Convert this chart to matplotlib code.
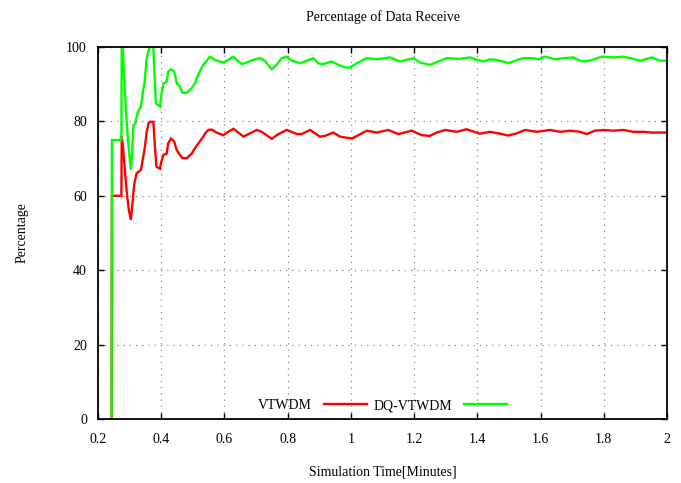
import matplotlib
matplotlib.use("Agg")
import matplotlib.pyplot as plt
from matplotlib.ticker import FuncFormatter

title = "Percentage of Data Receive"
xlabel = "Simulation Time[Minutes]"
ylabel = "Percentage"
labels = ["VTWDM", "DQ-VTWDM"]
xticks = [0.2, 0.4, 0.6, 0.8, 1.0, 1.2, 1.4, 1.6, 1.8, 2.0]
yticks = [0, 20, 40, 60, 80, 100]

vtwdm_t = [0.243, 0.244, 0.274, 0.275, 0.278, 0.285, 0.292, 0.298, 0.304, 0.308, 0.312,
           0.315, 0.322, 0.336, 0.342, 0.347, 0.351, 0.354, 0.360, 0.365, 0.375, 0.378,
           0.380, 0.385, 0.396, 0.400, 0.407, 0.417, 0.422, 0.431, 0.441, 0.449, 0.459,
           0.467, 0.481, 0.496, 0.507, 0.515, 0.522, 0.533, 0.541, 0.549, 0.560, 0.575,
           0.596, 0.612, 0.628, 0.644, 0.660, 0.681, 0.702, 0.718, 0.733, 0.750, 0.765,
           0.776, 0.797, 0.829, 0.844, 0.871, 0.902, 0.918, 0.944, 0.966, 0.987, 1.003,
           1.024, 1.050, 1.082, 1.118, 1.150, 1.192, 1.224, 1.250, 1.271, 1.298, 1.335,
           1.366, 1.408, 1.440, 1.466, 1.498, 1.525, 1.551, 1.588, 1.630, 1.662, 1.693,
           1.725, 1.746, 1.772, 1.799, 1.830, 1.862, 1.894, 1.925, 1.952, 1.988, 2.000]
vtwdm_v = [0, 60, 60, 76, 74, 67, 60, 56, 53.5, 57, 61,
           63.3, 66, 67, 70, 72.3, 75, 77.2, 79.5, 79.9, 79.9, 76,
           73.2, 67.8, 67.3, 69, 71, 71.3, 74.1, 75.4, 74.6, 72.3, 71,
           70.1, 70.1, 71.3, 72.8, 73.8, 74.6, 75.9, 77, 77.7, 77.8, 77.0,
           76.3, 77.2, 78.0, 77.0, 75.9, 76.8, 77.7, 77.2, 76.3, 75.3, 76.3,
           76.8, 77.7, 76.6, 76.6, 77.7, 75.9, 76.1, 77.0, 75.9, 75.6, 75.4,
           76.3, 77.5, 77.0, 77.7, 76.6, 77.5, 76.3, 76.1, 77.0, 77.7, 77.2,
           77.9, 76.7, 77.2, 76.8, 76.2, 76.8, 77.7, 77.2, 77.7, 77.2, 77.5,
           77.2, 76.6, 77.5, 77.7, 77.5, 77.7, 77.2, 77.2, 77.0, 77.0, 77.0]

dq_t = [0.243, 0.244, 0.274, 0.275, 0.278, 0.285, 0.292, 0.298, 0.304, 0.308, 0.312,
        0.318, 0.326, 0.336, 0.342, 0.347, 0.351, 0.354, 0.360, 0.365, 0.375, 0.378,
        0.380, 0.383, 0.396, 0.400, 0.407, 0.417, 0.422, 0.431, 0.441, 0.445, 0.449,
        0.459, 0.467, 0.481, 0.488, 0.496, 0.507, 0.512, 0.517, 0.525, 0.533, 0.544,
        0.554, 0.562, 0.570, 0.586, 0.596, 0.604, 0.612, 0.620, 0.628, 0.639, 0.647,
        0.655, 0.666, 0.676, 0.686, 0.697, 0.713, 0.728, 0.740, 0.750, 0.765, 0.781,
        0.797, 0.813, 0.823, 0.839, 0.860, 0.881, 0.897, 0.913, 0.939, 0.960, 0.981,
        0.997, 1.018, 1.050, 1.082, 1.124, 1.155, 1.198, 1.219, 1.250, 1.282, 1.303,
        1.345, 1.377, 1.393, 1.419, 1.440, 1.461, 1.482, 1.498, 1.519, 1.545, 1.577,
        1.593, 1.614, 1.646, 1.672, 1.704, 1.725, 1.741, 1.762, 1.793, 1.830, 1.862,
        1.894, 1.915, 1.952, 1.978, 2.000]
dq_v = [0, 75, 75, 100, 100, 88, 78, 72, 67, 72, 79,
        79.5, 82.6, 84, 88, 90.2, 94, 97, 99, 100, 100, 94,
        90.7, 84.9, 84.0, 87, 90.2, 90.7, 93.4, 94, 93.4, 92, 90.2,
        89.3, 87.7, 87.7, 88.3, 88.9, 90.2, 91.5, 92.5, 94, 95.2, 96.3,
        97.4, 97, 96.5, 96.1, 95.8, 96.2, 96.5, 97, 97.4, 96.5, 96,
        95.4, 95.7, 96.0, 96.4, 96.7, 97.0, 96.3, 95, 94.0, 95.2, 97.0,
        97.4, 96.3, 96.1, 95.6, 96.3, 97.0, 95.6, 95.4, 96.1, 95.2, 94.5,
        94.5, 95.6, 97.0, 96.7, 97.2, 96.1, 97.0, 95.8, 95.2, 96.3, 97.0,
        96.8, 97.2, 96.7, 96.1, 96.7, 96.5, 96.1, 95.6, 96.3, 97.0, 97.0,
        96.7, 97.4, 96.7, 97.0, 97.2, 96.3, 96.1, 96.5, 97.4, 97.2, 97.4,
        96.8, 96.3, 97.2, 96.3, 96.3]

plt.rcParams['font.family'] = ['Liberation Serif', 'DejaVu Serif']
plt.rcParams['font.size'] = 10

fig = plt.figure(figsize=(6.81, 4.83), dpi=100)
ax = fig.add_axes([98 / 681, 1 - 419 / 483, (667 - 98) / 681, (419 - 47) / 483])

ax.plot(vtwdm_t, vtwdm_v, color='#ff0000', lw=1.7, label=labels[0], solid_joinstyle='miter')
ax.plot(dq_t, dq_v, color='#00ff00', lw=1.7, label=labels[1], solid_joinstyle='miter')

ax.set_xlim(0.2, 2.0)
ax.set_ylim(0, 100)
ax.set_xticks(xticks)
ax.set_yticks(yticks)
ax.xaxis.set_major_formatter(FuncFormatter(lambda v, p: "%g" % v))
ax.tick_params(direction='in', length=4, width=1, top=True, right=True, labelsize=10)
ax.tick_params(axis='x', pad=10)
ax.tick_params(axis='y', pad=8)
ax.grid(True, color='#888888', linestyle=(0, (1, 4)), linewidth=0.9)
for s in ax.spines.values():
    s.set_linewidth(1.3)

ax.set_title(title, fontsize=10, pad=19)
ax.set_xlabel(xlabel, fontsize=10, labelpad=14)
ax.set_ylabel(ylabel, fontsize=10, labelpad=27)

ax.legend(loc='lower center', ncol=2, frameon=False, markerfirst=False,
          bbox_to_anchor=(0.5, -0.015), handlelength=3.1, columnspacing=0.5,
          handletextpad=0.85, fontsize=10)

fig.savefig("out.png", dpi=100)
